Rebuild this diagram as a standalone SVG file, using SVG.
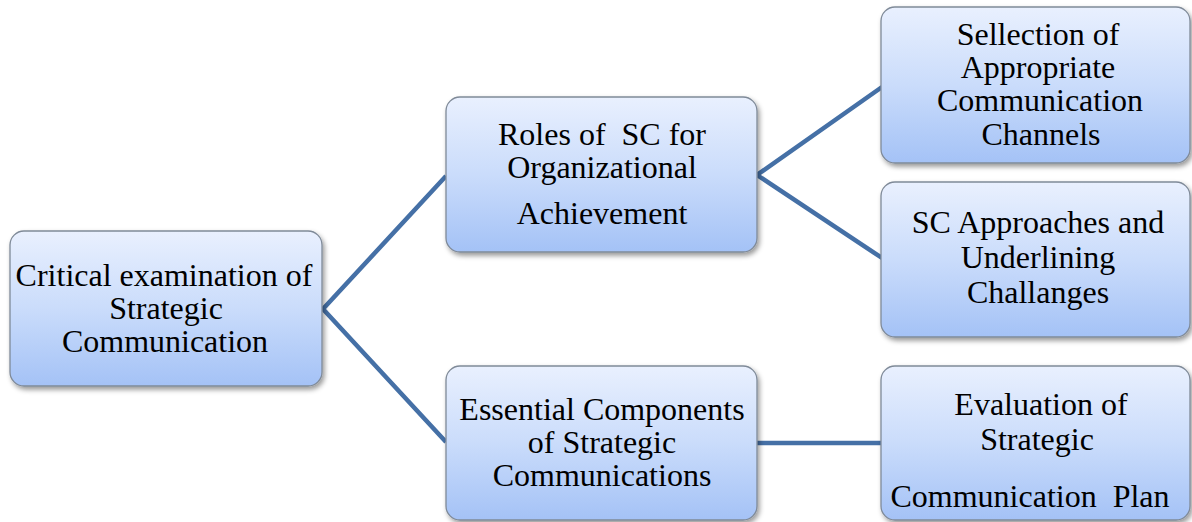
<svg xmlns="http://www.w3.org/2000/svg" width="1192" height="522" viewBox="0 0 1192 522">
  <defs>
    <linearGradient id="boxFill" x1="0" y1="0" x2="0" y2="1">
      <stop offset="0" stop-color="#e9f0fe"/>
      <stop offset="0.5" stop-color="#cadcfb"/>
      <stop offset="1" stop-color="#a4c2f6"/>
    </linearGradient>
    <filter id="shadow" x="-10%" y="-10%" width="125%" height="130%">
      <feDropShadow dx="2" dy="3" stdDeviation="2.5" flood-color="#000" flood-opacity="0.4"/>
    </filter>
  </defs>
  <style>
    .box { fill: url(#boxFill); stroke: #7f8a98; stroke-width: 1.3; filter: url(#shadow); }
    .label { font-family: 'Liberation Serif', 'DejaVu Serif', serif; font-size: 32px; fill: #000; text-anchor: middle; }
    .link { stroke: #4570a6; stroke-width: 4.5; fill: none; stroke-linejoin: miter; }
  </style>
  <rect width="1192" height="522" fill="#ffffff"/>

  <!-- connectors -->
  <g id="connectors">
    <polyline class="link" points="446,176 323,309 446,442"/>
    <polyline class="link" points="882,87 757,175 882,258"/>
    <line class="link" x1="757" y1="443" x2="882" y2="443"/>
  </g>

  <!-- root -->
  <g id="node-critical">
    <rect class="box" x="10" y="231" width="312" height="155" rx="14"/>
    <text class="label" x="164" y="286">Critical examination of</text>
    <text class="label" x="166" y="319">Strategic</text>
    <text class="label" x="165" y="352">Communication</text>
  </g>

  <g id="node-roles">
    <rect class="box" x="446" y="97" width="311" height="155" rx="14"/>
    <text class="label" x="602" y="145" xml:space="preserve">Roles of  SC for</text>
    <text class="label" x="602" y="178">Organizational</text>
    <text class="label" x="602" y="224">Achievement</text>
  </g>

  <g id="node-essential">
    <rect class="box" x="446" y="366" width="311" height="154" rx="14"/>
    <text class="label" x="602" y="420">Essential Components</text>
    <text class="label" x="602" y="453">of Strategic</text>
    <text class="label" x="602" y="486">Communications</text>
  </g>

  <g id="node-selection">
    <rect class="box" x="881" y="7" width="309" height="156" rx="14"/>
    <text class="label" x="1038" y="45">Sellection of</text>
    <text class="label" x="1038" y="78">Appropriate</text>
    <text class="label" x="1040" y="111">Communication</text>
    <text class="label" x="1041" y="145">Channels</text>
  </g>

  <g id="node-approaches">
    <rect class="box" x="881" y="182" width="309" height="155" rx="14"/>
    <text class="label" x="1038" y="233">SC Approaches and</text>
    <text class="label" x="1038" y="268">Underlining</text>
    <text class="label" x="1038" y="303">Challanges</text>
  </g>

  <g id="node-evaluation">
    <rect class="box" x="881" y="366" width="309" height="154" rx="14"/>
    <text class="label" x="1041" y="415">Evaluation of</text>
    <text class="label" x="1037" y="450">Strategic</text>
    <text class="label" x="1030" y="507" xml:space="preserve">Communication  Plan</text>
  </g>
</svg>
